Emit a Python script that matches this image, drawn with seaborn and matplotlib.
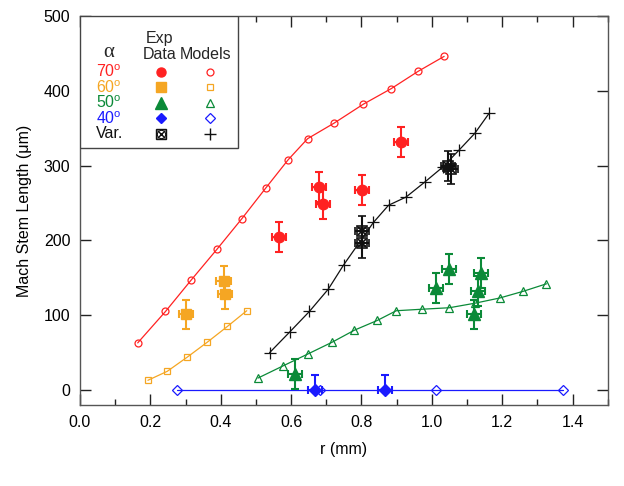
import matplotlib
matplotlib.use("Agg")
import matplotlib.pyplot as plt
import seaborn as sns
import numpy as np
import pandas as pd
from matplotlib.patches import Rectangle
from matplotlib.ticker import MultipleLocator

# ---------------- data ----------------
red_model_r = [0.164, 0.243, 0.316, 0.389, 0.460, 0.528, 0.592, 0.647, 0.723, 0.805, 0.885, 0.961, 1.035]
red_model_L = [63, 105, 147, 188, 229, 270, 308, 336, 357, 382, 403, 426, 446]
red_exp_r = [0.566, 0.680, 0.690, 0.801, 0.913]
red_exp_L = [204, 271, 249, 267, 331]

orange_model_r = [0.193, 0.248, 0.305, 0.362, 0.419, 0.474]
orange_model_L = [13, 25, 44, 64, 85, 106]
orange_exp_r = [0.301, 0.408, 0.411]
orange_exp_L = [101, 146, 128]

green_model_r = [0.506, 0.576, 0.647, 0.717, 0.780, 0.845, 0.899, 0.972, 1.050, 1.122, 1.193, 1.260, 1.326]
green_model_L = [16, 32, 48, 64, 80, 93, 106, 108, 110, 116, 123, 132, 142]
green_exp_r = [0.611, 1.012, 1.050, 1.141, 1.131, 1.121]
green_exp_L = [21, 136, 162, 156, 132, 101]

blue_model_r = [0.277, 0.683, 1.013, 1.373]
blue_model_L = [0, 0, 0, 0]
blue_exp_r = [0.667, 0.866]
blue_exp_L = [0, 0]

black_model_r = [0.539, 0.597, 0.652, 0.706, 0.749, 0.834, 0.877, 0.927, 0.980, 1.031, 1.078, 1.122, 1.163]
black_model_L = [50, 78, 105, 135, 167, 224, 247, 258, 278, 298, 321, 343, 370]
black_exp_r = [0.801, 0.801, 1.045, 1.055]
black_exp_L = [213, 197, 300, 296]

L_err = 20
r_err = 0.02

row_labels = ["70$^{\\mathrm{o}}$", "60$^{\\mathrm{o}}$", "50$^{\\mathrm{o}}$", "40$^{\\mathrm{o}}$", "Var."]

RED = "#ff2222"
ORANGE = "#f5a623"
GREEN = "#0b8a38"
BLUE = "#1a1aff"
BLACK = "#111111"

# ---------------- style ----------------
sns.set_theme(style="ticks")
plt.rcParams['font.family'] = ['Liberation Sans', 'DejaVu Sans']
plt.rcParams['mathtext.fontset'] = 'custom'
plt.rcParams['mathtext.rm'] = 'Liberation Sans'
plt.rcParams['mathtext.it'] = 'Liberation Sans:italic'

fig = plt.figure(figsize=(6.24, 4.86), dpi=100)
ax = fig.add_axes([0.1282, 0.1667, 0.8457, 0.8004])

# ---------------- model lines ----------------
model_sets = [
    (red_model_r, red_model_L, RED, 'o', 5.0),
    (orange_model_r, orange_model_L, ORANGE, 's', 4.6),
    (green_model_r, green_model_L, GREEN, '^', 5.6),
    (blue_model_r, blue_model_L, BLUE, 'D', 4.6),
]
for r, L, c, m, ms in model_sets:
    df = pd.DataFrame({"r": r, "L": L})
    sns.lineplot(data=df, x="r", y="L", ax=ax, color=c, linewidth=0.9,
                 marker=m, markersize=ms, markerfacecolor='none',
                 markeredgecolor=c, markeredgewidth=0.9, zorder=2)
df = pd.DataFrame({"r": black_model_r, "L": black_model_L})
sns.lineplot(data=df, x="r", y="L", ax=ax, color=BLACK, linewidth=0.9,
             marker='+', markersize=8, markeredgecolor=BLACK,
             markeredgewidth=0.9, zorder=2)

# ---------------- experimental data ----------------
eb_kw = dict(linestyle='none', elinewidth=1.5, capsize=3.2, capthick=1.5, zorder=4)
ax.errorbar(red_exp_r, red_exp_L, yerr=L_err, xerr=r_err, fmt='o', color=RED,
            ms=7.5, mec=RED, **eb_kw)
ax.errorbar(orange_exp_r, orange_exp_L, yerr=L_err, xerr=r_err, fmt='s', color=ORANGE,
            ms=7, mec=ORANGE, **eb_kw)
ax.errorbar(green_exp_r, green_exp_L, yerr=L_err, xerr=r_err, fmt='^', color=GREEN,
            ms=8.5, mec=GREEN, **eb_kw)
ax.errorbar(blue_exp_r, blue_exp_L, yerr=[[0] * len(blue_exp_L), [L_err] * len(blue_exp_L)],
            xerr=r_err, fmt='D', color=BLUE, ms=6, mec=BLUE, **eb_kw)
ax.errorbar(black_exp_r, black_exp_L, yerr=L_err, xerr=r_err, fmt='s', color=BLACK,
            ms=7, mfc='none', mec=BLACK, mew=1.2, **eb_kw)
ax.plot(black_exp_r, black_exp_L, linestyle='none', marker='x', ms=6, mec=BLACK,
        mew=1.2, zorder=5)

# ---------------- axes ----------------
ax.set_xlim(0, 1.5)
ax.set_ylim(-20, 500)
ax.set_xticks([0.0, 0.2, 0.4, 0.6, 0.8, 1.0, 1.2, 1.4])
ax.set_xticklabels(["0.0", "0.2", "0.4", "0.6", "0.8", "1.0", "1.2", "1.4"])
ax.xaxis.set_minor_locator(MultipleLocator(0.1))
ax.set_yticks([0, 100, 200, 300, 400, 500])
ax.tick_params(which='both', direction='in', top=True, right=True, colors='#222222',
               labelcolor='black', labelsize=11.5, pad=7)
ax.tick_params(which='major', length=8, width=1)
ax.tick_params(which='minor', length=4.5, width=1)
for s in ax.spines.values():
    s.set_color('#555555')
    s.set_linewidth(1)
ax.set_xlabel("r (mm)", fontsize=11.5, labelpad=9, color='black')
ax.set_ylabel("Mach Stem Length (\u03bcm)", fontsize=11.5, labelpad=8, color='black')
ax.grid(False)

# ---------------- custom legend table ----------------
box = Rectangle((0, 0.6607), 0.2994, 0.3393, transform=ax.transAxes,
                facecolor='white', edgecolor='#444444', linewidth=1, zorder=6)
ax.add_patch(box)
tk = dict(transform=ax.transAxes, ha='center', va='center', zorder=7, fontsize=11.5)
ax.text(0.0536, 0.9057, "\u03b1", family=['Liberation Serif', 'DejaVu Serif'],
        transform=ax.transAxes, ha='center', va='center', zorder=7, fontsize=15)
ax.text(0.1516, 0.9427, "Exp", **tk)
ax.text(0.1503, 0.9015, "Data", **tk)
ax.text(0.2388, 0.9015, "Models", **tk)

row_y = [0.8568, 0.8167, 0.7771, 0.7370, 0.6967]
row_colors = [RED, ORANGE, GREEN, BLUE, BLACK]
data_markers = [('o', 6.5), ('s', 7), ('^', 8.5), ('D', 5.5), (None, 0)]
model_markers = [('o', 5), ('s', 4.6), ('^', 5.6), ('D', 5), ('+', 9)]
xd, xm = 0.1528, 0.2464
for lab, y, c, (dm, dms), (mm, mms) in zip(row_labels, row_y, row_colors, data_markers, model_markers):
    ax.text(0.0555, y, lab, color=c, **tk)
    if dm is not None:
        ax.plot([xd], [y], marker=dm, ms=dms, color=c, mec=c, linestyle='none',
                transform=ax.transAxes, zorder=8, clip_on=False)
    else:
        ax.plot([xd], [y], marker='s', ms=7, mfc='none', mec=c, mew=1.0, linestyle='none',
                transform=ax.transAxes, zorder=8, clip_on=False)
        ax.plot([xd], [y], marker='x', ms=6, mec=c, mew=1.0, linestyle='none',
                transform=ax.transAxes, zorder=8, clip_on=False)
        ax.plot([xd], [y], marker='o', ms=6, mfc='none', mec=c, mew=0.8, linestyle='none',
                transform=ax.transAxes, zorder=8, clip_on=False)
    if mm == '+':
        ax.plot([xm], [y], marker=mm, ms=mms, mec=c, mew=1.0, linestyle='none',
                transform=ax.transAxes, zorder=8, clip_on=False)
    else:
        ax.plot([xm], [y], marker=mm, ms=mms, mfc='none', mec=c, mew=0.9, linestyle='none',
                transform=ax.transAxes, zorder=8, clip_on=False)

fig.savefig("out.png", dpi=100)
